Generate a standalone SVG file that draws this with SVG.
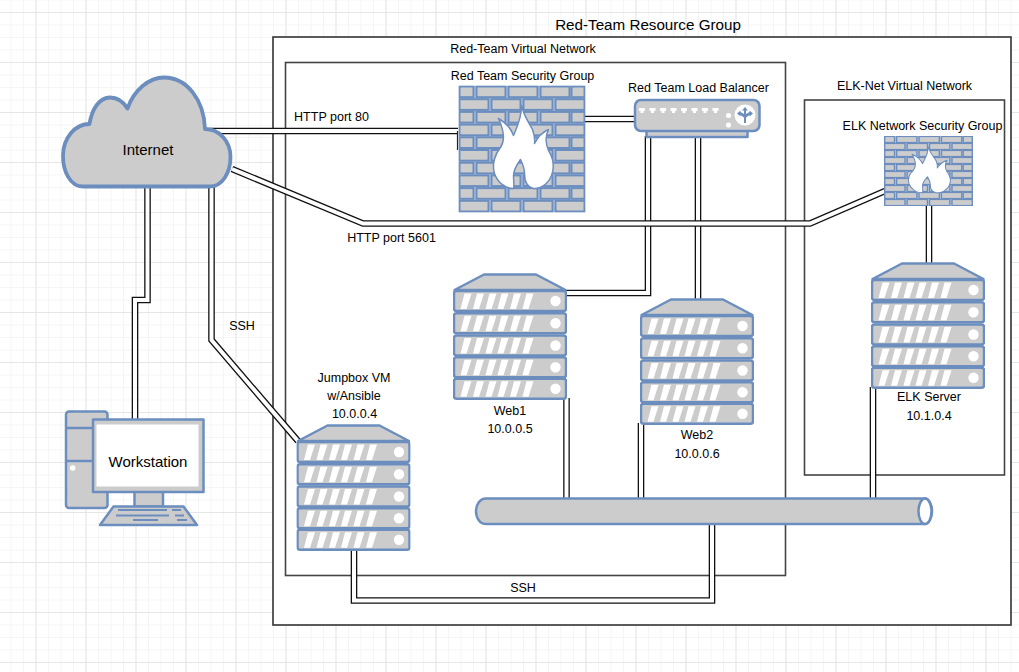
<svg xmlns="http://www.w3.org/2000/svg" width="1019" height="672" viewBox="0 0 1019 672">
<style>
text{font-family:"Liberation Sans",Arial,sans-serif;font-size:12.5px;fill:#000;text-anchor:middle}
.big{font-size:15.2px}
.large{font-size:15px}
.box{fill:none;stroke:#444;stroke-width:1.6}
.shape{fill:#ccc;stroke:#6c8ebf;stroke-width:2.500;stroke-linejoin:round}
.thick{stroke-width:3.800}
.blue{fill:#6c8ebf}
.w{fill:#fff;stroke:none}
.co{fill:none;stroke:#111;stroke-width:6.600;stroke-linejoin:miter}
.ci{fill:none;stroke:#fff;stroke-width:4;stroke-linejoin:miter}
.brick{fill:#ccc;stroke:#6c8ebf;stroke-width:2}
</style>
<defs>
<pattern id="minor" width="12.5" height="12.5" patternUnits="userSpaceOnUse" x="35.5" y="12"><path d="M0.5 0V12.5M0 0.5H12.5" stroke="#f5f5f5" fill="none"/></pattern>
<pattern id="major" width="50" height="50" patternUnits="userSpaceOnUse" x="35.5" y="12"><path d="M0.5 0V50M0 0.5H50" stroke="#e6e6e6" fill="none"/></pattern>
<g id="rowA">
<rect class="brick" x="1" y="1" width="14" height="10.7"/><rect class="brick" x="18" y="1" width="29" height="10.7"/><rect class="brick" x="50" y="1" width="29" height="10.7"/><rect class="brick" x="82" y="1" width="29" height="10.7"/><rect class="brick" x="113" y="1" width="13" height="10.7"/>
</g>
<g id="rowB">
<rect class="brick" x="1" y="1" width="29" height="10.7"/><rect class="brick" x="33" y="1" width="29" height="10.7"/><rect class="brick" x="65" y="1" width="29" height="10.7"/><rect class="brick" x="97" y="1" width="29" height="10.7"/>
</g>
<symbol id="firewall" viewBox="0 0 127 127" preserveAspectRatio="none">
<rect width="127" height="127" fill="#6c8ebf" opacity=".45"/>
<use href="#rowA" y="0"/><use href="#rowB" y="12.7"/><use href="#rowA" y="25.4"/><use href="#rowB" y="38.1"/><use href="#rowA" y="50.8"/><use href="#rowB" y="63.5"/><use href="#rowA" y="76.2"/><use href="#rowB" y="88.9"/><use href="#rowA" y="101.6"/><use href="#rowB" y="114.3"/>
<path d="M63 20C66 32 71 38 74 44C76 50 77 53 76 58C79 52 83 47 90 44C86 52 87 58 90 65C95 73 96 82 93 90C90 98 82 104 75 103C69 102 66 96 66 88C66 84 64 78 62 74C58 80 55 84 55 90C55 96 56 100 55 103C47 103 39 97 36 88C33 78 37 68 42 62C46 56 46 46 40 33C48 38 52 42 55 50C58 42 63 34 63 20Z" fill="#fff" stroke="#6c8ebf" stroke-width="1.5" stroke-linejoin="round"/>
</symbol>
<g id="unit">
<rect class="shape" x="1" y="0" width="112" height="20" rx="2.5"/>
<path class="w" d="M7.500 18L11.500 2.500H18.500L13.500 18ZM20 18L24 2.500H31L26 18ZM32.500 18L36.500 2.500H43.500L38.500 18ZM44.500 18L48.500 2.500H55.500L50.500 18ZM57 18L61 2.500H68L63 18ZM69.500 18L73.500 2.500H80.500L75.500 18Z"/>
<circle class="w" cx="102.500" cy="10" r="5.200"/>
</g>
<symbol id="server" viewBox="0 0 114 127" width="114" height="127">
<path class="shape" d="M1.500 17L31 1.500H83L112.500 17Z"/>
<use href="#unit" y="18"/><use href="#unit" y="40.300"/><use href="#unit" y="62.500"/><use href="#unit" y="84.300"/><use href="#unit" y="105.700"/>
</symbol>
</defs>

<rect width="1019" height="672" fill="#fff"/>
<rect width="1019" height="672" fill="url(#minor)"/>
<rect width="1019" height="672" fill="url(#major)"/>

<g id="containers">
<rect x="273" y="37" width="738" height="588" fill="#fff" stroke="#333" stroke-width="1.600"/>
<rect class="box" x="285.500" y="62.500" width="500" height="513"/>
<rect class="box" x="804.500" y="100" width="200" height="375"/>
</g>

<g id="connectors">
<path class="co" d="M210 131H458"/><path class="ci" d="M210 131H458"/>
<path d="M457.500 131V150" stroke="#222" stroke-width="1.200" fill="none"/>
<path class="co" d="M584 119H636"/><path class="ci" d="M584 119H636"/>
<path class="co" d="M648 136V293H565"/><path class="ci" d="M648 136V293H565"/>
<path class="co" d="M698 136V300"/><path class="ci" d="M698 136V300"/>
<path class="co" d="M232 169L363 223.500H810L885 191"/><path class="ci" d="M232 169L363 223.500H810L885 191"/>
<path class="co" d="M929 204V264"/><path class="ci" d="M929 204V264"/>
<path class="co" d="M147.500 185V300H135V421"/><path class="ci" d="M147.500 185V300H135V421"/>
<path class="co" d="M211.500 185V340L298 441"/><path class="ci" d="M211.500 185V340L298 441"/>
<path class="co" d="M566.500 398V500"/><path class="ci" d="M566.500 398V500"/>
<path class="co" d="M641 423V500"/><path class="ci" d="M641 423V500"/>
<path class="co" d="M873 387V500"/><path class="ci" d="M873 387V500"/>
<path class="co" d="M354 548V600.500H712V522"/><path class="ci" d="M354 548V600.500H712V522"/>
</g>

<g id="internet">
<path class="shape thick" d="M83 186.500C70 186.500 63 171 63 156C63 138 75 124 89.500 124C92 108 100 97.500 110 97.500C117 97.500 123 101 127.500 108.500C134 90 149 77.500 164 77.500C187 77.500 204 100 205 129C219 129 230.500 141 230.500 157C230.500 173 222 186.500 210 186.500Z"/>
<text class="large" x="148" y="155">Internet</text>
</g>

<g id="red-team-security-group">
<use href="#firewall" x="458.500" y="85.500" width="127" height="127"/>
<text x="522.500" y="80">Red Team Security Group</text>
</g>

<g id="load-balancer">
<rect class="shape" x="646.500" y="126" width="101" height="11"/>
<rect class="shape" x="635" y="100" width="124.500" height="31" rx="6"/>
<path class="w" d="M639 108H645V111H643.500V113H640.500V111H639ZM649.500 108H655.500V111H654V113H651V111H649.500ZM660 108H666V111H664.500V113H661.500V111H660ZM670.500 108H676.500V111H675V113H672V111H670.500ZM681 108H687V111H685.500V113H682.500V111H681ZM691.500 108H697.500V111H696V113H693V111H691.500ZM702 108H708V111H706.500V113H703.500V111H702ZM712.500 108H718.500V111H717V113H714V111H712.500Z"/>
<circle class="w" cx="728.500" cy="115.500" r="2.600"/><circle class="w" cx="728.500" cy="125" r="2.600"/>
<circle class="w" cx="745" cy="115" r="10.500"/>
<path class="blue" d="M745 107L748 110.500H746V114L749.500 112V110.500L753 113.500L749.500 116.500V115L746 117.500V123H744V117.500L740.500 115V116.500L737 113.500L740.500 110.500V112L744 114V110.500H742Z"/>
<text x="698.500" y="91.500">Red Team Load Balancer</text>
</g>

<g id="elk-security-group">
<use href="#firewall" x="884" y="136" width="89" height="70"/>
<text x="922.500" y="129.500">ELK Network Security Group</text>
</g>

<g id="workstation">
<rect class="shape" x="66" y="411.500" width="41.500" height="96.500" rx="3"/>
<path d="M66 428H108M66 461H108" stroke="#6c8ebf" stroke-width="2.500" fill="none"/>
<circle class="w" cx="72.700" cy="468" r="2.800"/>
<rect class="shape" x="134.500" y="491" width="28.500" height="15.500"/>
<path class="shape" d="M113.500 506.500H183.500L197 525H100Z"/>
<path d="M118 510H167M172 510H181M116 515.500H169M175 515.500H184M133 520H158M177 520H187" stroke="#6c8ebf" stroke-width="2" fill="none"/>
<rect class="shape" x="93" y="419.500" width="110.500" height="72.500"/>
<rect x="96.500" y="424.500" width="102" height="62" fill="#fff"/>
<text class="large" x="148" y="467">Workstation</text>
</g>

<g id="jumpbox">
<use href="#server" x="296.500" y="424"/>
<text x="354" y="381.500">Jumpbox VM</text><text x="354" y="399.500">w/Ansible</text><text x="354.500" y="417.500">10.0.0.4</text>
</g>
<g id="web1">
<use href="#server" x="453" y="273"/>
<text x="510" y="415">Web1</text><text x="510" y="433">10.0.0.5</text>
</g>
<g id="web2">
<use href="#server" x="640" y="298"/>
<text x="697" y="439">Web2</text><text x="697" y="458">10.0.0.6</text>
</g>
<g id="elk-server">
<use href="#server" x="871" y="262"/>
<text x="929" y="401">ELK Server</text><text x="929" y="420">10.1.0.4</text>
</g>

<g id="bus">
<path class="shape" d="M486 498.500H925C929 498.500 932 505 932 511.300C932 517.500 929 524 925 524H486C480 524 476 518 476 511.300C476 504.500 480 498.500 486 498.500Z"/>
<ellipse cx="925" cy="511.300" rx="6.500" ry="12.700" fill="#fff" stroke="#6c8ebf" stroke-width="2.500"/>
</g>

<g id="labels">
<text class="big" x="648" y="30">Red-Team Resource Group</text>
<text x="523" y="53">Red-Team Virtual Network</text>
<text x="904.500" y="90">ELK-Net Virtual Network</text>
<text x="331.500" y="121">HTTP port 80</text>
<text x="391.500" y="242">HTTP port 5601</text>
<text x="242" y="330">SSH</text>
<text x="523" y="592">SSH</text>
</g>
</svg>
